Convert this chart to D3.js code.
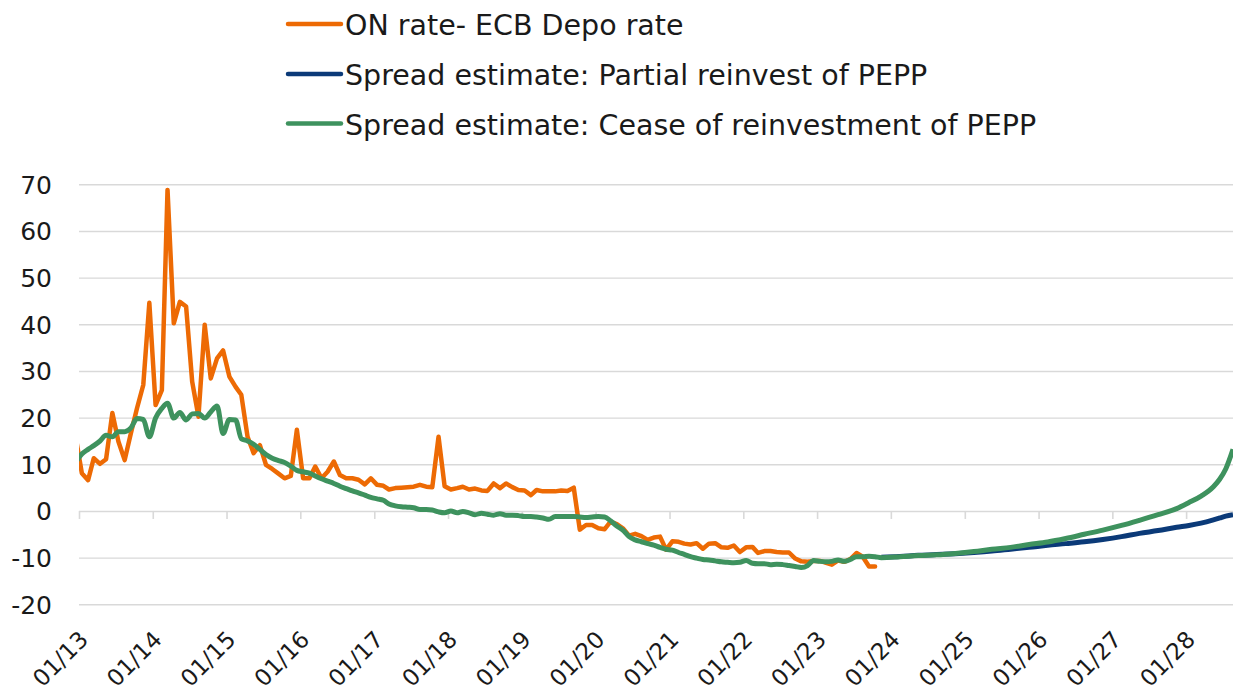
<!DOCTYPE html>
<html>
<head>
<meta charset="utf-8">
<script src="https://cdn.jsdelivr.net/npm/d3@7"></script>
<style>
  html, body { margin: 0; padding: 0; background: #fff; }
  svg { display: block; font-family: "DejaVu Sans", sans-serif; }
</style>
</head>
<body>
<div id="chart"></div>
<script>
// monthly history, mid-month, first value is Dec 2012 (clipped at the axis)
var historyStart = new Date(2012, 11, 15);

var onRate = [16.0,
  8.1, 6.6, 11.3, 10.1, 11.1, 21.0, 14.9, 10.9, 16.7, 22.0, 27.0, 44.6,
  22.7, 25.9, 68.8, 40.2, 44.8, 43.8, 27.7, 20.2, 39.9, 28.4, 32.7, 34.4,
  28.8, 26.6, 24.9, 15.9, 12.4, 14.1, 9.9, 9.0, 8.0, 7.0, 7.5, 17.4,
  7.0, 7.0, 9.5, 7.0, 8.4, 10.6, 7.7, 7.0, 7.0, 6.7, 5.7, 7.0,
  5.6, 5.4, 4.6, 4.9, 5.0, 5.1, 5.2, 5.6, 5.2, 5.1, 15.9, 5.3,
  4.6, 4.9, 5.2, 4.6, 4.8, 4.4, 4.3, 5.9, 4.9, 5.9, 5.1, 4.5,
  4.4, 3.4, 4.5, 4.2, 4.2, 4.2, 4.4, 4.3, 5.0, -4.0, -3.0, -3.0,
  -3.7, -3.9, -2.3, -2.8, -3.7, -5.3, -4.9, -5.4, -6.2, -5.7, -5.5, -8.3,
  -6.5, -6.6, -7.0, -7.2, -6.9, -8.1, -7.0, -6.9, -7.8, -7.9, -7.4, -8.8,
  -7.8, -7.7, -9.0, -8.6, -8.6, -8.8, -8.9, -8.9, -10.2, -10.8, -10.9, -10.7,
  -10.7, -11.1, -11.5, -10.6, -10.9, -10.3, -9.0, -9.8, -11.9, -11.9];

var spreadHistory = [10.4,
  12.2, 13.2, 14.0, 15.0, 16.2, 15.9, 17.0, 17.0, 17.8, 19.8, 19.6, 15.9,
  19.9, 22.0, 23.1, 19.9, 21.1, 19.5, 20.8, 20.9, 19.9, 21.2, 22.5, 16.6,
  19.6, 19.5, 15.5, 15.0, 14.3, 13.2, 12.1, 11.3, 10.8, 10.4, 9.6, 8.7,
  8.4, 8.1, 7.5, 6.9, 6.4, 5.9, 5.3, 4.8, 4.3, 3.9, 3.4, 2.9,
  2.6, 2.3, 1.5, 1.1, 0.9, 0.8, 0.7, 0.3, 0.3, 0.2, -0.2, -0.4,
  0.0, -0.4, -0.1, -0.4, -0.8, -0.5, -0.7, -0.9, -0.6, -0.9, -0.9, -1.0,
  -1.2, -1.2, -1.3, -1.5, -1.8, -1.2, -1.2, -1.2, -1.2, -1.3, -1.4, -1.3,
  -1.2, -1.3, -2.1, -3.2, -4.1, -5.5, -6.2, -6.6, -7.0, -7.3, -7.8, -8.2,
  -8.4, -8.9, -9.3, -9.8, -10.1, -10.4, -10.5, -10.7, -10.9, -11.0, -11.1, -11.0,
  -10.6, -11.2, -11.3, -11.3, -11.5, -11.4, -11.5, -11.7, -11.9, -12.1, -11.7, -10.6,
  -10.8, -10.9, -10.8, -10.5, -10.8, -10.4, -9.8, -9.8, -9.7, -9.8];

// projections
var projDates = ["2023-11-15", "2024-02-15", "2024-05-15", "2024-08-15", "2024-11-15",
  "2025-02-15", "2025-05-15", "2025-08-15", "2025-11-15", "2026-02-15", "2026-05-15",
  "2026-08-15", "2026-11-15", "2027-02-15", "2027-05-15", "2027-08-15", "2027-11-15",
  "2028-01-15", "2028-03-15", "2028-05-15", "2028-06-15", "2028-07-15", "2028-08-20"];
var partialReinvest = [-9.9, -9.75, -9.5, -9.35, -9.15, -8.9, -8.6, -8.2, -7.8, -7.35, -7.0,
  -6.6, -6.1, -5.5, -4.8, -4.2, -3.5, -3.1, -2.6, -1.9, -1.5, -1.1, -0.8];
var ceaseReinvest = [-10.0, -9.8, -9.55, -9.4, -9.1, -8.7, -8.2, -7.8, -7.2, -6.65, -5.9,
  -5.0, -4.1, -3.1, -2.0, -0.8, 0.5, 1.8, 3.2, 5.2, 6.8, 9.0, 13.2];

var xTickLabels = ["01/13", "01/14", "01/15", "01/16", "01/17", "01/18", "01/19", "01/20",
  "01/21", "01/22", "01/23", "01/24", "01/25", "01/26", "01/27", "01/28"];
var yTicks = [-20, -10, 0, 10, 20, 30, 40, 50, 60, 70];

var seriesNames = ["ON rate- ECB Depo rate", "Spread estimate: Partial reinvest of PEPP",
  "Spread estimate: Cease of reinvestment of PEPP"];
var seriesColors = ["#ED6A04", "#0B3A78", "#3E925E"];

var width = 1233, height = 697;
var plotLeft = 79, plotRight = 1233, plotTop = 184.3, plotBottom = 604.3;

var parseDay = d3.timeParse("%Y-%m-%d");
var parseTick = d3.timeParse("%m/%y");

var histDates = onRate.map(function(d, i) { return d3.timeMonth.offset(historyStart, i); });
var orangeData = onRate.map(function(v, i) { return {date: histDates[i], value: v}; });
var projData = projDates.map(function(d, i) {
  return {date: parseDay(d), partial: partialReinvest[i], cease: ceaseReinvest[i]};
});
var blueData = projData.map(function(d) { return {date: d.date, value: d.partial}; });
var greenData = spreadHistory.map(function(v, i) { return {date: histDates[i], value: v}; })
  .concat(projData.map(function(d) { return {date: d.date, value: d.cease}; }));

var x = d3.scaleTime()
  .domain([new Date(2013, 0, 1), new Date(2028, 7, 20)])
  .range([plotLeft, plotRight]);
var y = d3.scaleLinear().domain([-20, 70]).range([plotBottom, plotTop]);

var svg = d3.select('#chart').append('svg')
  .attr('width', width)
  .attr('height', height);

svg.append('clipPath').attr('id', 'plotclip')
  .append('rect').attr('x', plotLeft).attr('y', 0)
  .attr('width', plotRight - plotLeft).attr('height', height);

// y axis + gridlines
var yAxis = svg.append('g')
  .attr('transform', 'translate(' + plotLeft + ',0)')
  .call(d3.axisLeft(y).tickValues(yTicks).tickSize(-(plotRight - plotLeft)).tickPadding(27)
    .tickFormat(function(d) { return String(d); }));
yAxis.select('.domain').remove();
yAxis.selectAll('.tick line').attr('stroke', '#d9d9d9').attr('stroke-width', 1.4);
yAxis.selectAll('.tick text')
  .attr('fill', '#1a1a1a')
  .attr('font-size', 25)
  .attr('font-family', '"DejaVu Sans", sans-serif')
  .attr('dy', 9);

// x axis at zero, labels low
var xAxis = svg.append('g')
  .attr('transform', 'translate(0,' + y(0) + ')')
  .call(d3.axisBottom(x).tickValues(xTickLabels.map(parseTick)).tickSize(8)
    .tickFormat(d3.timeFormat('%m/%y')));
xAxis.select('.domain').remove();
xAxis.selectAll('.tick line').attr('stroke', '#d9d9d9').attr('stroke-width', 1.6);
xAxis.selectAll('.tick text')
  .attr('fill', '#1a1a1a')
  .attr('font-size', 23)
  .attr('font-family', '"DejaVu Sans", sans-serif')
  .attr('x', 0).attr('y', 0).attr('dy', 0)
  .attr('text-anchor', 'end')
  .attr('transform', 'translate(10,' + (641 - y(0)) + ') rotate(-45)');

var lineLinear = d3.line()
  .x(function(d) { return x(d.date); })
  .y(function(d) { return y(d.value); });
var lineSmooth = d3.line()
  .curve(d3.curveMonotoneX)
  .x(function(d) { return x(d.date); })
  .y(function(d) { return y(d.value); });

var plot = svg.append('g').attr('clip-path', 'url(#plotclip)');

plot.append('path').datum(orangeData)
  .attr('d', lineLinear)
  .attr('fill', 'none').attr('stroke', seriesColors[0]).attr('stroke-width', 4.5)
  .attr('stroke-linejoin', 'round').attr('stroke-linecap', 'round');

plot.append('path').datum(blueData)
  .attr('d', lineSmooth)
  .attr('fill', 'none').attr('stroke', seriesColors[1]).attr('stroke-width', 5)
  .attr('stroke-linejoin', 'round');

plot.append('path').datum(greenData)
  .attr('d', lineSmooth)
  .attr('fill', 'none').attr('stroke', seriesColors[2]).attr('stroke-width', 5)
  .attr('stroke-linejoin', 'round');

// legend
var legendRows = [24, 74, 123.5];
var legend = svg.append('g');
seriesNames.forEach(function(name, i) {
  legend.append('line')
    .attr('x1', 288).attr('x2', 341)
    .attr('y1', legendRows[i]).attr('y2', legendRows[i])
    .attr('stroke', seriesColors[i]).attr('stroke-width', 4.5)
    .attr('stroke-linecap', 'round');
  legend.append('text')
    .attr('x', 345).attr('y', legendRows[i] + 11)
    .attr('font-size', 28.5)
    .attr('fill', '#1a1a1a')
    .text(name);
});
</script>
</body>
</html>
